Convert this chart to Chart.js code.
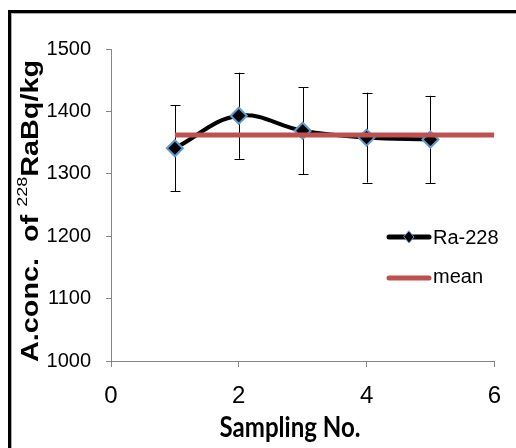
<!DOCTYPE html>
<html>
<head>
<meta charset="UTF-8">
<title>Ra-228</title>
<script src="https://cdn.jsdelivr.net/npm/chart.js"></script>
<style>
    body { margin: 0; background: #fff; }
    #wrap { position: relative; width: 516px; height: 448px; }
</style>
</head>
<body>
<div id="wrap"><canvas id="chart" width="516" height="448"></canvas></div>
<script>
// data
const samples = [1, 2, 3, 4, 5];
const ra228 = [1341, 1393, 1369, 1358, 1355];
const ra228Err = [69, 69, 70, 72, 70];
const meanX = [1, 6];
const meanY = [1362, 1362];
const xTicks = [0, 2, 4, 6];
const yTicks = [1000, 1100, 1200, 1300, 1400, 1500];

const axisGray = '#868686';

// error bars, drawn under the markers
const errorBars = {
    id: 'errorBars',
    beforeDatasetsDraw(chart) {
        const ctx = chart.ctx;
        const x = chart.scales.x, y = chart.scales.y;
        ctx.save();
        ctx.strokeStyle = '#000';
        ctx.lineWidth = 1;
        samples.forEach((s, i) => {
            const px = Math.round(x.getPixelForValue(s)) + 0.5;
            const top = y.getPixelForValue(ra228[i] + ra228Err[i]);
            const bot = y.getPixelForValue(ra228[i] - ra228Err[i]);
            ctx.beginPath();
            ctx.moveTo(px, top); ctx.lineTo(px, bot);
            ctx.moveTo(px - 5, Math.round(top) + 0.5); ctx.lineTo(px + 5, Math.round(top) + 0.5);
            ctx.moveTo(px - 5, Math.round(bot) + 0.5); ctx.lineTo(px + 5, Math.round(bot) + 0.5);
            ctx.stroke();
        });
        ctx.restore();
    }
};

// frame, axis titles and legend
const decor = {
    id: 'decor',
    beforeDraw(chart) {
        const ctx = chart.ctx;
        ctx.save();
        ctx.fillStyle = '#000';
        ctx.fillRect(8, 10, 508, 3);
        ctx.fillRect(8, 10, 3, 438);
        ctx.fillStyle = '#aaa';
        ctx.fillRect(11, 13, 505, 1);
        ctx.fillRect(11, 13, 1, 435);
        ctx.restore();
    },
    afterDraw(chart) {
        const ctx = chart.ctx;
        ctx.save();
        ctx.fillStyle = '#000';

        // y title with superscript
        const parts = [
            { t: 'A.conc.  of ', f: 'bold 24px "Liberation Sans", Arial', dy: 0 },
            { t: '228', f: '15px "Liberation Sans", Arial', dy: -11 },
            { t: 'RaBq/kg', f: 'bold 24px "Liberation Sans", Arial', dy: 0 }
        ];
        let w = 0;
        parts.forEach(p => { ctx.font = p.f; p.w = ctx.measureText(p.t).width; w += p.w; });
        ctx.translate(38, 362);
        ctx.rotate(-Math.PI / 2);
        ctx.scale(302 / w, 1);
        ctx.textBaseline = 'alphabetic';
        let cx = 0;
        parts.forEach(p => { ctx.font = p.f; ctx.fillText(p.t, cx, p.dy); cx += p.w; });
        ctx.setTransform(1, 0, 0, 1, 0, 0);

        // x title
        ctx.font = 'bold 28px Lato, "Open Sans", sans-serif';
        const tw = ctx.measureText('Sampling No.').width;
        ctx.translate(290, 437);
        ctx.scale(141 / tw, 1);
        ctx.textAlign = 'center';
        ctx.fillText('Sampling No.', 0, 0);
        ctx.setTransform(1, 0, 0, 1, 0, 0);

        // legend
        ctx.lineCap = 'round';
        ctx.lineWidth = 5;
        ctx.strokeStyle = '#000';
        ctx.beginPath(); ctx.moveTo(389, 237); ctx.lineTo(429, 237); ctx.stroke();
        ctx.beginPath();
        ctx.moveTo(409, 231); ctx.lineTo(414, 237); ctx.lineTo(409, 243); ctx.lineTo(404, 237); ctx.closePath();
        ctx.fillStyle = '#000'; ctx.fill();
        ctx.lineWidth = 1; ctx.strokeStyle = '#5b9bd5'; ctx.stroke();
        ctx.lineWidth = 5; ctx.strokeStyle = '#c0504d';
        ctx.beginPath(); ctx.moveTo(389, 278); ctx.lineTo(429, 278); ctx.stroke();
        ctx.fillStyle = '#000';
        ctx.font = '20px "Liberation Sans", Arial';
        ctx.textAlign = 'left';
        ctx.textBaseline = 'middle';
        ctx.fillText('Ra-228', 433, 238);
        ctx.fillText('mean', 433, 277);
        ctx.restore();
    }
};

new Chart(document.getElementById('chart'), {
    type: 'line',
    data: {
        datasets: [{
            label: 'Ra-228',
            data: samples.map((s, i) => ({ x: s, y: ra228[i] })),
            borderColor: '#000',
            borderWidth: 4,
            tension: 0.4,
            pointStyle: 'rectRot',
            pointRadius: 8,
            pointBackgroundColor: '#000',
            pointBorderColor: '#5b9bd5',
            pointBorderWidth: 2,
            order: 1
        }, {
            label: 'mean',
            data: meanX.map((x, i) => ({ x: x, y: meanY[i] })),
            borderColor: '#c0504d',
            borderWidth: 5,
            pointRadius: 0,
            order: 0
        }]
    },
    options: {
        responsive: false,
        devicePixelRatio: 1,
        animation: false,
        layout: { padding: { left: 0, top: 49, right: 18, bottom: 0 } },
        plugins: { legend: { display: false }, tooltip: { enabled: false } },
        scales: {
            x: {
                type: 'linear',
                min: 0, max: 6,
                afterFit(s) { s.height = 87; },
                afterBuildTicks(s) { s.ticks = xTicks.map(v => ({ value: v })); },
                border: { color: axisGray, width: 1 },
                grid: { drawOnChartArea: false, color: axisGray, tickLength: 6 },
                ticks: { color: '#000', padding: 15, callback: v => String(v),
                         font: { family: '"Liberation Sans", Arial', size: 24 } }
            },
            y: {
                min: 1000, max: 1500,
                afterFit(s) { s.width = 111; },
                afterBuildTicks(s) { s.ticks = yTicks.map(v => ({ value: v })); },
                border: { color: axisGray, width: 1 },
                grid: { drawOnChartArea: false, color: axisGray, tickLength: 5 },
                ticks: { color: '#000', padding: 15, callback: v => String(v),
                         font: { family: '"Liberation Sans", Arial', size: 20 } }
            }
        }
    },
    plugins: [errorBars, decor]
});
</script>
</body>
</html>
